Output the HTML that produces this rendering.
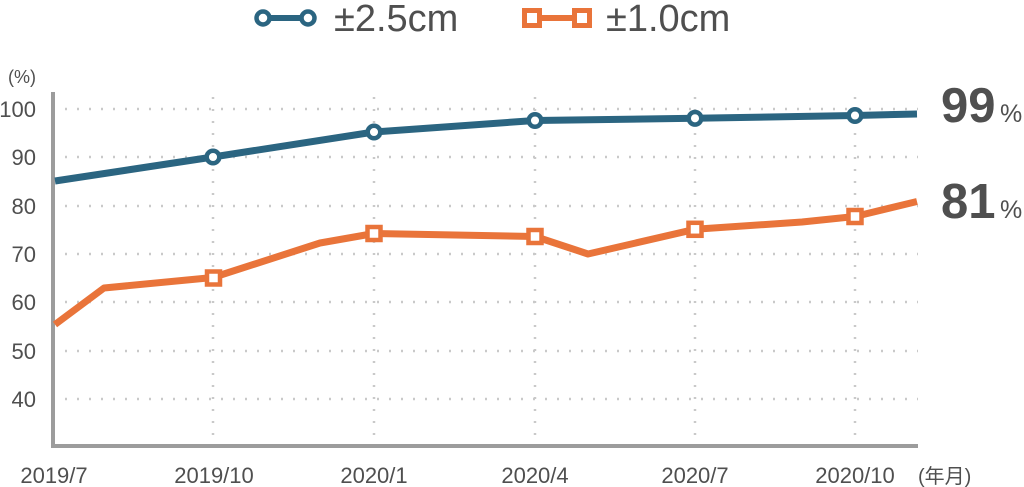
<!DOCTYPE html>
<html><head><meta charset="utf-8"><style>
html,body{margin:0;padding:0;background:#fff;}
svg{display:block;}
text{font-family:"Liberation Sans","Noto Sans CJK JP",sans-serif;fill:#4f4f4f;}
</style></head><body>
<svg width="1024" height="487" viewBox="0 0 1024 487" xmlns="http://www.w3.org/2000/svg">
<g stroke="#c9c9c9" stroke-width="2.5" stroke-dasharray="2 10" fill="none">
<line x1="65" y1="109" x2="918" y2="109"/>
<line x1="65" y1="157" x2="918" y2="157"/>
<line x1="65" y1="206" x2="918" y2="206"/>
<line x1="65" y1="254" x2="918" y2="254"/>
<line x1="65" y1="302" x2="918" y2="302"/>
<line x1="65" y1="351" x2="918" y2="351"/>
<line x1="65" y1="399" x2="918" y2="399"/>
<line x1="213" y1="97" x2="213" y2="440"/>
<line x1="374" y1="97" x2="374" y2="440"/>
<line x1="535" y1="97" x2="535" y2="440"/>
<line x1="695" y1="97" x2="695" y2="440"/>
<line x1="855" y1="97" x2="855" y2="440"/>
</g>
<polyline points="53,92 53,446 918,446" fill="none" stroke="#9c9c9c" stroke-width="4"/>
<g font-size="22" text-anchor="end">
<text x="36" y="117">100</text>
<text x="36" y="165">90</text>
<text x="36" y="214">80</text>
<text x="36" y="262">70</text>
<text x="36" y="310">60</text>
<text x="36" y="359">50</text>
<text x="36" y="407">40</text>
</g>
<text x="8" y="83" font-size="18">(%)</text>
<g font-size="22" text-anchor="middle">
<text x="54" y="483">2019/7</text>
<text x="214" y="483">2019/10</text>
<text x="374" y="483">2020/1</text>
<text x="535" y="483">2020/4</text>
<text x="695" y="483">2020/7</text>
<text x="855" y="483">2020/10</text>
</g>
<text x="918" y="483" font-size="20">(年月)</text>
<polyline points="55,181 213,157 374,132 535,120.5 695,118.3 855,115.5 917,114" fill="none" stroke="#2b6581" stroke-width="7" stroke-linejoin="round"/>
<polyline points="55,324.5 104,288 213,277.5 320,243 374,233.5 535,236.5 588,254 695,229.3 802,222 855,216.5 917,201.5" fill="none" stroke="#e9743a" stroke-width="7" stroke-linejoin="round"/>
<g fill="#fff" stroke="#2b6581" stroke-width="4.5">
<circle cx="213" cy="157" r="6.3"/>
<circle cx="374" cy="132" r="6.3"/>
<circle cx="535" cy="120.5" r="6.3"/>
<circle cx="695" cy="118.3" r="6.3"/>
<circle cx="855" cy="115.5" r="6.3"/>
</g>
<g fill="#fff" stroke="#e9743a" stroke-width="4.5">
<rect x="207" y="271.5" width="13" height="13"/>
<rect x="367.5" y="227" width="13" height="13"/>
<rect x="528.5" y="230" width="13" height="13"/>
<rect x="688.5" y="222.8" width="13" height="13"/>
<rect x="848.5" y="210" width="13" height="13"/>
</g>
<!-- legend -->
<line x1="263" y1="18" x2="308" y2="18" stroke="#2b6581" stroke-width="6"/>
<g fill="#fff" stroke="#2b6581" stroke-width="4.5">
<circle cx="263" cy="18" r="6.5"/>
<circle cx="308" cy="18" r="6.5"/>
</g>
<text x="334" y="31" font-size="38">±2.5cm</text>
<line x1="532" y1="18" x2="582" y2="18" stroke="#e9743a" stroke-width="6"/>
<g fill="#fff" stroke="#e9743a" stroke-width="5">
<rect x="524.5" y="10.5" width="15" height="15"/>
<rect x="574.5" y="10.5" width="15" height="15"/>
</g>
<text x="606" y="31" font-size="38">±1.0cm</text>
<!-- big labels -->
<text x="941" y="122" font-size="49" font-weight="bold">99</text>
<text x="1000" y="122" font-size="25">%</text>
<text x="941" y="218" font-size="49" font-weight="bold">81</text>
<text x="1000" y="218" font-size="25">%</text>
</svg>
</body></html>
